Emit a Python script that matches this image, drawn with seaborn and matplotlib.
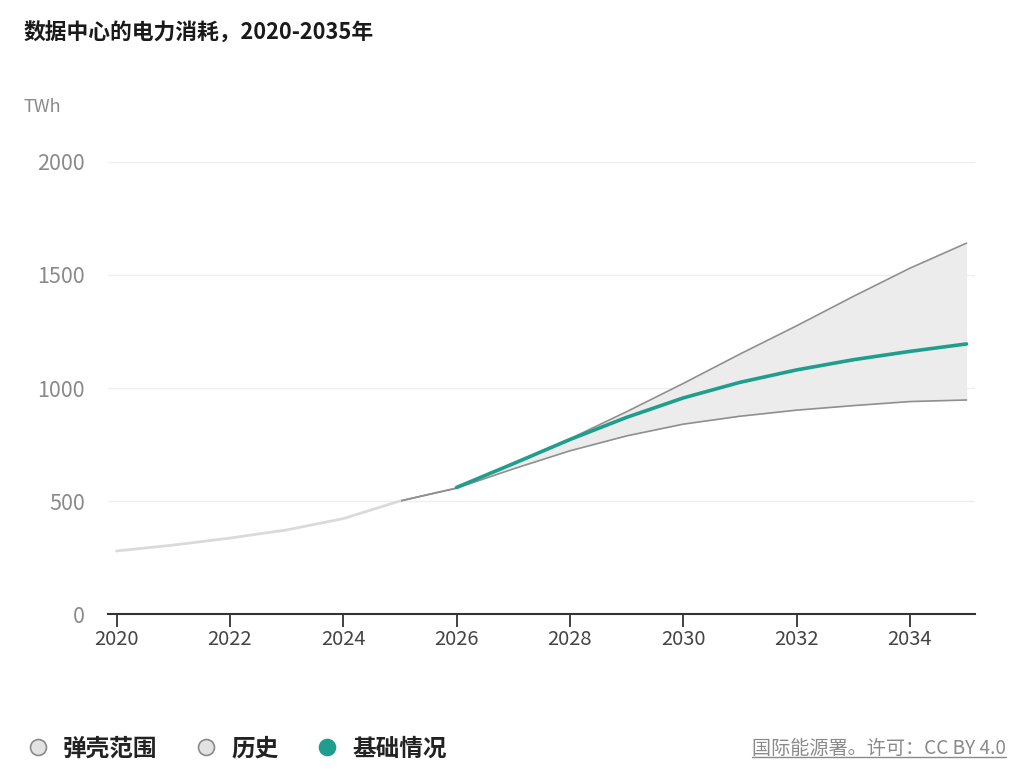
import numpy as np
import pandas as pd
import seaborn as sns
import matplotlib.pyplot as plt
from matplotlib.lines import Line2D

# TWh
hist_years = [2020, 2021, 2022, 2023, 2024, 2025]
hist_vals = [279, 305, 336, 372, 422, 500]

band_years = [2025, 2026, 2027, 2028, 2029, 2030, 2031, 2032, 2033, 2034, 2035]
band_low = [500, 557, 642, 722, 788, 840, 875, 902, 922, 940, 947]
band_high = [500, 557, 668, 775, 895, 1020, 1150, 1275, 1405, 1530, 1641]

base_years = [2026, 2027, 2028, 2029, 2030, 2031, 2032, 2033, 2034, 2035]
base_vals = [560, 665, 772, 870, 956, 1025, 1080, 1125, 1162, 1195]

xticks = [2020, 2022, 2024, 2026, 2028, 2030, 2032, 2034]
yticks = [0, 500, 1000, 1500, 2000]

legend_labels = ["弹壳范围", "历史", "基础情况"]

sns.set_theme(style="white")
plt.rcParams['font.family'] = ['Noto Sans CJK SC', 'DejaVu Sans']

teal = "#1f9e8e"
band_edge = "#8f8f8f"
band_fill = "#ececec"
hist_col = "#dadada"
text_gray = "#8a8a8a"

fig = plt.figure(figsize=(10.24, 7.81), dpi=100)
ax = fig.add_axes([0.1055, 0.2138, 0.8467, 0.5788])

band = pd.DataFrame({"year": band_years, "low": band_low, "high": band_high})
hist = pd.DataFrame({"year": hist_years, "value": hist_vals})
base = pd.DataFrame({"year": base_years, "value": base_vals})

ax.fill_between(band["year"], band["low"], band["high"], color=band_fill, lw=0, zorder=1)
sns.lineplot(data=band, x="year", y="low", ax=ax, color=band_edge, lw=1.2, zorder=2)
sns.lineplot(data=band, x="year", y="high", ax=ax, color=band_edge, lw=1.2, zorder=2)
sns.lineplot(data=hist, x="year", y="value", ax=ax, color=hist_col, lw=2.0, zorder=2)
sns.lineplot(data=base, x="year", y="value", ax=ax, color=teal, lw=2.6, zorder=3)

ax.set_xlim(2019.85, 2035.15)
ax.set_ylim(0, 2000)
ax.set_xticks(xticks)
ax.set_xticklabels([str(t) for t in xticks], color="#444444", fontsize=14.5)
ax.set_yticks(yticks)
ax.set_yticklabels([str(t) for t in yticks], color=text_gray, fontsize=15.5)
ax.set_xlabel("")
ax.set_ylabel("")

for y in yticks[1:]:
    ax.axhline(y, color="#eeeeee", lw=1.0, zorder=0)

for s in ["top", "right", "left"]:
    ax.spines[s].set_visible(False)
ax.spines["bottom"].set_color("#333333")
ax.spines["bottom"].set_linewidth(1.5)
ax.tick_params(axis="x", bottom=True, direction="out", length=9, width=1.3,
               color="#333333", pad=2)
ax.tick_params(axis="y", left=False, length=0, pad=16.5)

fig.text(0.023, 0.958, "数据中心的电力消耗，2020-2035年", fontsize=15.7,
         fontweight="bold", color="#1a1a1a", va="center", ha="left")
fig.text(0.023, 0.863, "TWh", fontsize=13, color=text_gray, va="center", ha="left")

handles = [
    Line2D([], [], ls="none", marker="o", ms=11.5, mfc="#e2e2e2", mec="#8a8a8a", mew=1.2),
    Line2D([], [], ls="none", marker="o", ms=11.5, mfc="#e2e2e2", mec="#8a8a8a", mew=1.2),
    Line2D([], [], ls="none", marker="o", ms=11.5, mfc=teal, mec=teal, mew=1.2),
]
leg = fig.legend(handles, legend_labels, loc="center left", bbox_to_anchor=(0.0166, 0.042),
                 ncol=3, frameon=False, handletextpad=0.55, columnspacing=1.57,
                 handlelength=1.0, borderaxespad=0,
                 prop={"size": 17, "weight": "bold"})
for t in leg.get_texts():
    t.set_color("#222222")

src = fig.text(0.982, 0.042, "国际能源署。许可：CC BY 4.0", fontsize=13.75,
               color=text_gray, ha="right", va="center")
fig.canvas.draw()
bb = src.get_window_extent().transformed(fig.transFigure.inverted())
fig.add_artist(Line2D([bb.x0, bb.x1], [bb.y0 + 0.002, bb.y0 + 0.002],
                      transform=fig.transFigure, color=text_gray, lw=1.0))

fig.savefig("out.png", dpi=100, facecolor="white")
